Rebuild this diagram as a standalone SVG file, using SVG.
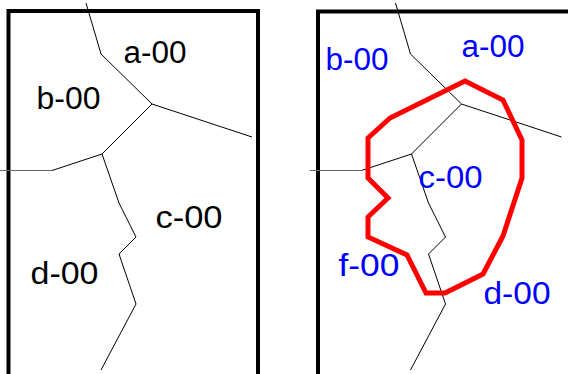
<svg xmlns="http://www.w3.org/2000/svg" width="568" height="374" viewBox="0 0 568 374">
<style>
.frame{fill:none;stroke:#000;stroke-width:4}
.edge{fill:none;stroke:#000;stroke-width:1}
.stub{fill:none;stroke:#666;stroke-width:1.2}
.lbl{font-family:"Liberation Sans",Arial,sans-serif;font-size:31px}
.blk{fill:#000}
.blu{fill:#0000ff}
.zone{fill:none;stroke:#ff0000;stroke-width:5;stroke-linejoin:miter}
</style>
<defs>
<g id="net">
<path class="edge" d="M86,3 L101,54 L152,104 L252,137 M152,104 L102,154 L52,170.5 M102,154 L119,203 L136,237 L119,254 L136,304 L101,370"/>
<path class="stub" d="M0,170.5 L52,170.5"/>
</g>
</defs>
<g id="left-panel">
<rect class="frame" x="8.5" y="11" width="249.5" height="380"/>
<use href="#net"/>
<g id="a-left"><text class="lbl blk" x="123.5" y="63.3" textLength="63" lengthAdjust="spacingAndGlyphs">a-00</text></g>
<g id="b-left"><text class="lbl blk" x="36.5" y="109" textLength="64" lengthAdjust="spacingAndGlyphs">b-00</text></g>
<g id="c-left"><text class="lbl blk" x="155.5" y="228.3" textLength="67" lengthAdjust="spacingAndGlyphs">c-00</text></g>
<g id="d-left"><text class="lbl blk" x="30.5" y="284.3" textLength="68" lengthAdjust="spacingAndGlyphs">d-00</text></g>
</g>
<g id="right-panel">
<rect class="frame" x="318" y="11.5" width="280" height="380"/>
<use href="#net" transform="translate(309.5,0)"/>
<g id="zone-f"><polygon class="zone" points="465,81 503,100 522,140 522,178 503,236 483,274 445,293 426,293 407,255 368,237 368,217 388,198 368,178 368,138 390,118"/></g>
<g id="a-right"><text class="lbl blu" x="461.5" y="57" textLength="63" lengthAdjust="spacingAndGlyphs">a-00</text></g>
<g id="b-right"><text class="lbl blu" x="325.5" y="70" textLength="63" lengthAdjust="spacingAndGlyphs">b-00</text></g>
<g id="c-right"><text class="lbl blu" x="418.5" y="188" textLength="64" lengthAdjust="spacingAndGlyphs">c-00</text></g>
<g id="f-right"><text class="lbl blu" x="338.5" y="276" textLength="61" lengthAdjust="spacingAndGlyphs">f-00</text></g>
<g id="d-right"><text class="lbl blu" x="483.5" y="304" textLength="67" lengthAdjust="spacingAndGlyphs">d-00</text></g>
</g>
</svg>
